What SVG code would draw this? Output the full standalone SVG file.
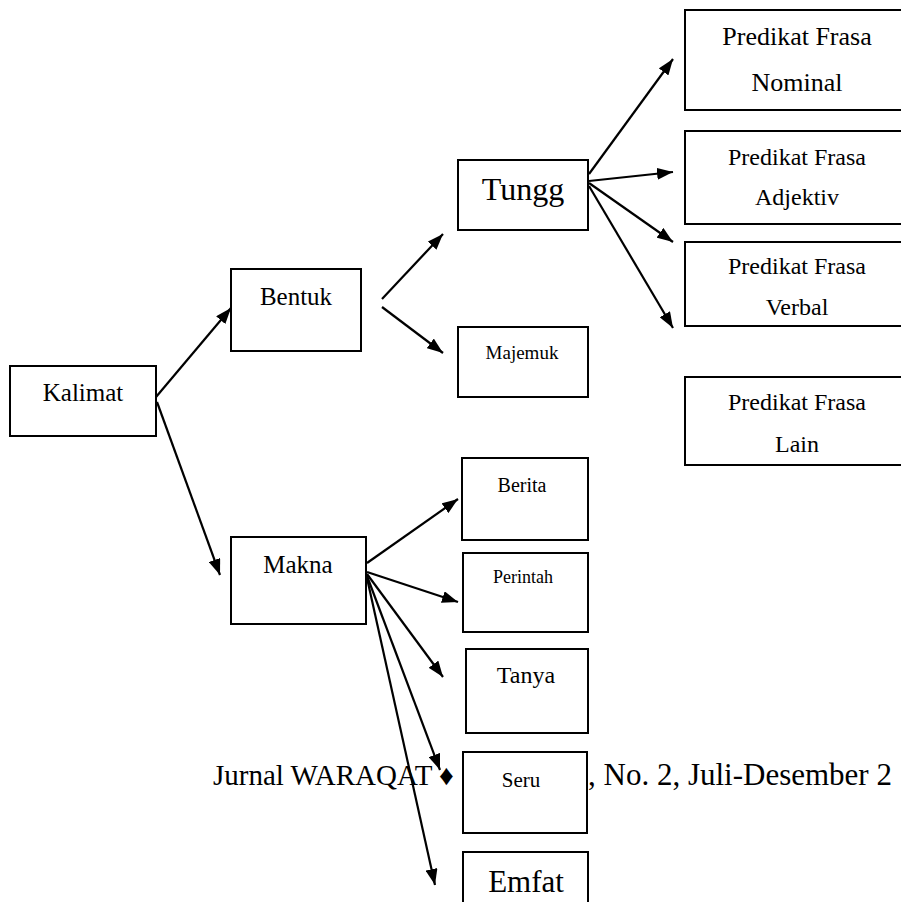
<svg xmlns="http://www.w3.org/2000/svg" width="901" height="902" viewBox="0 0 901 902">
<style>
  .box { fill: #ffffff; stroke: #000000; stroke-width: 2; }
  .t { font-family: "Liberation Serif", "Times New Roman", serif; fill: #000000; text-anchor: middle; }
  .foot { font-family: "Liberation Serif", "Times New Roman", serif; fill: #000000; }
  .conn line { stroke: #000000; stroke-width: 2.2; fill: none; marker-end: url(#ah); }
</style>
<defs>
  <marker id="ah" viewBox="0 0 16 12" refX="16" refY="6" markerWidth="16" markerHeight="12" orient="auto" markerUnits="userSpaceOnUse">
    <path d="M0,0 L16,6 L0,12 z" fill="#000000"/>
  </marker>
</defs>
<rect x="0" y="0" width="901" height="902" fill="#ffffff"/>
<g id="footer">
  <text class="foot" x="213" y="785" font-size="29">Jurnal WARAQAT ♦</text>
  <text class="foot" x="588" y="785" font-size="31">, No. 2, Juli-Desember 2</text>
</g>
<g id="kalimat"><rect class="box" x="10" y="366" width="146" height="70"/><text class="t" x="83" y="401" font-size="25">Kalimat</text></g>
<g id="bentuk"><rect class="box" x="231" y="269" width="130" height="82"/><text class="t" x="296" y="305" font-size="25">Bentuk</text></g>
<g id="makna"><rect class="box" x="231" y="537" width="135" height="87"/><text class="t" x="298" y="573" font-size="25">Makna</text></g>
<g id="tungg"><rect class="box" x="458" y="160" width="130" height="70"/><text class="t" x="523" y="200" font-size="32">Tungg</text></g>
<g id="majemuk"><rect class="box" x="458" y="327" width="130" height="70"/><text class="t" x="522" y="359" font-size="19">Majemuk</text></g>
<g id="nominal"><rect class="box" x="685" y="10" width="230" height="100"/><text class="t" x="797" y="45" font-size="26">Predikat Frasa</text><text class="t" x="797" y="91" font-size="26">Nominal</text></g>
<g id="adjektiv"><rect class="box" x="685" y="131" width="230" height="93"/><text class="t" x="797" y="165" font-size="24">Predikat Frasa</text><text class="t" x="797" y="205" font-size="24">Adjektiv</text></g>
<g id="verbal"><rect class="box" x="685" y="242" width="230" height="84"/><text class="t" x="797" y="274" font-size="24">Predikat Frasa</text><text class="t" x="797" y="315" font-size="24">Verbal</text></g>
<g id="lain"><rect class="box" x="685" y="377" width="230" height="88"/><text class="t" x="797" y="410" font-size="24">Predikat Frasa</text><text class="t" x="797" y="452" font-size="24">Lain</text></g>
<g id="berita"><rect class="box" x="462" y="458" width="126" height="82"/><text class="t" x="522" y="492" font-size="20">Berita</text></g>
<g id="perintah"><rect class="box" x="463" y="553" width="125" height="79"/><text class="t" x="523" y="583" font-size="18">Perintah</text></g>
<g id="tanya"><rect class="box" x="466" y="649" width="122" height="84"/><text class="t" x="526" y="683" font-size="24">Tanya</text></g>
<g id="seru"><rect class="box" x="463" y="752" width="124" height="81"/><text class="t" x="521" y="787" font-size="21">Seru</text></g>
<g id="emfat"><rect class="box" x="463" y="852" width="125" height="60"/><text class="t" x="526" y="892" font-size="31">Emfat</text></g>
<g id="connectors" class="conn">
  <line x1="156" y1="397" x2="231" y2="308"/>
  <line x1="157" y1="402" x2="220" y2="575"/>
  <line x1="382" y1="299" x2="443" y2="234"/>
  <line x1="382" y1="307" x2="443" y2="353"/>
  <line x1="589" y1="174" x2="673" y2="59"/>
  <line x1="589" y1="181" x2="673" y2="172"/>
  <line x1="589" y1="183" x2="673" y2="242"/>
  <line x1="589" y1="186" x2="673" y2="328"/>
  <line x1="367" y1="563" x2="458" y2="499"/>
  <line x1="367" y1="572" x2="458" y2="602"/>
  <line x1="367" y1="574" x2="443" y2="677"/>
  <line x1="367" y1="576" x2="440" y2="770"/>
  <line x1="367" y1="578" x2="435" y2="885"/>
</g>
</svg>
